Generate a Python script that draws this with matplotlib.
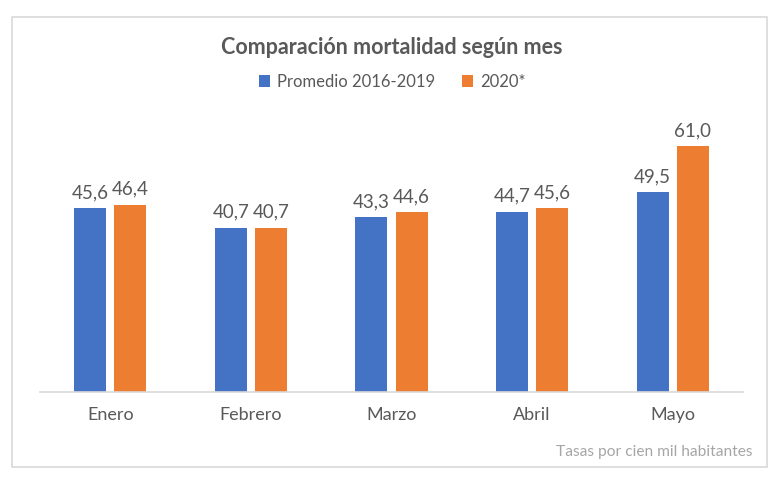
import numpy as np
import matplotlib.pyplot as plt
from matplotlib.patches import Rectangle

meses = ["Enero", "Febrero", "Marzo", "Abril", "Mayo"]
promedio = [45.6, 40.7, 43.3, 44.7, 49.5]
anio_2020 = [46.4, 40.7, 44.6, 45.6, 61.0]
series_labels = ["Promedio 2016-2019", "2020*"]

azul = "#4472C4"
naranja = "#ED7D31"
gris_texto = "#595959"

plt.rcParams['font.family'] = ['Lato', 'DejaVu Sans']

fig = plt.figure(figsize=(7.84, 4.80), dpi=100)
# marco del grafico
fig.patches.append(Rectangle((12 / 784, 1 - 467 / 480), 755 / 784, 450 / 480,
                             transform=fig.transFigure, fill=False,
                             edgecolor="#D9D9D9", linewidth=1.2))

ax = fig.add_axes([40 / 784, 1 - 392 / 480, 703 / 784, 282 / 480])
x = np.arange(len(meses))
w = 0.228
off = (w + 0.057) / 2
b1 = ax.bar(x - off, promedio, w, color=azul, label=series_labels[0])
b2 = ax.bar(x + off, anio_2020, w, color=naranja, label=series_labels[1])

for bars in (b1, b2):
    for r in bars:
        v = r.get_height()
        ax.annotate(f"{v:.1f}".replace(".", ","), (r.get_x() + r.get_width() / 2, v),
                    xytext=(0, 5), textcoords="offset points", ha="center", va="bottom",
                    fontsize=13.5, color=gris_texto)

ax.set_xlim(-0.5, len(meses) - 0.5)
ax.set_ylim(0, 282 / 4.035)
ax.set_xticks(x)
ax.set_xticklabels(meses, fontsize=13, color=gris_texto)
ax.tick_params(axis="x", length=0, pad=11)
ax.set_yticks([])
for s in ["top", "left", "right"]:
    ax.spines[s].set_visible(False)
ax.spines["bottom"].set_color("#D9D9D9")
ax.spines["bottom"].set_linewidth(1.2)

fig.text(0.5, 1 - 47 / 480, "Comparación mortalidad según mes", ha="center", va="center",
         fontsize=15.5, fontweight="bold", color=gris_texto)
fig.legend(loc="center", bbox_to_anchor=(0.5, 1 - 82 / 480), ncol=2, frameon=False,
           fontsize=12, handlelength=0.7, handleheight=0.7, handletextpad=0.4,
           columnspacing=1.6, labelcolor=gris_texto)
fig.text(753 / 784, 1 - 452 / 480, "Tasas por cien mil habitantes", ha="right", va="center",
         fontsize=11.2, color="#A6A6A6")

fig.savefig("out.png", dpi=100)
